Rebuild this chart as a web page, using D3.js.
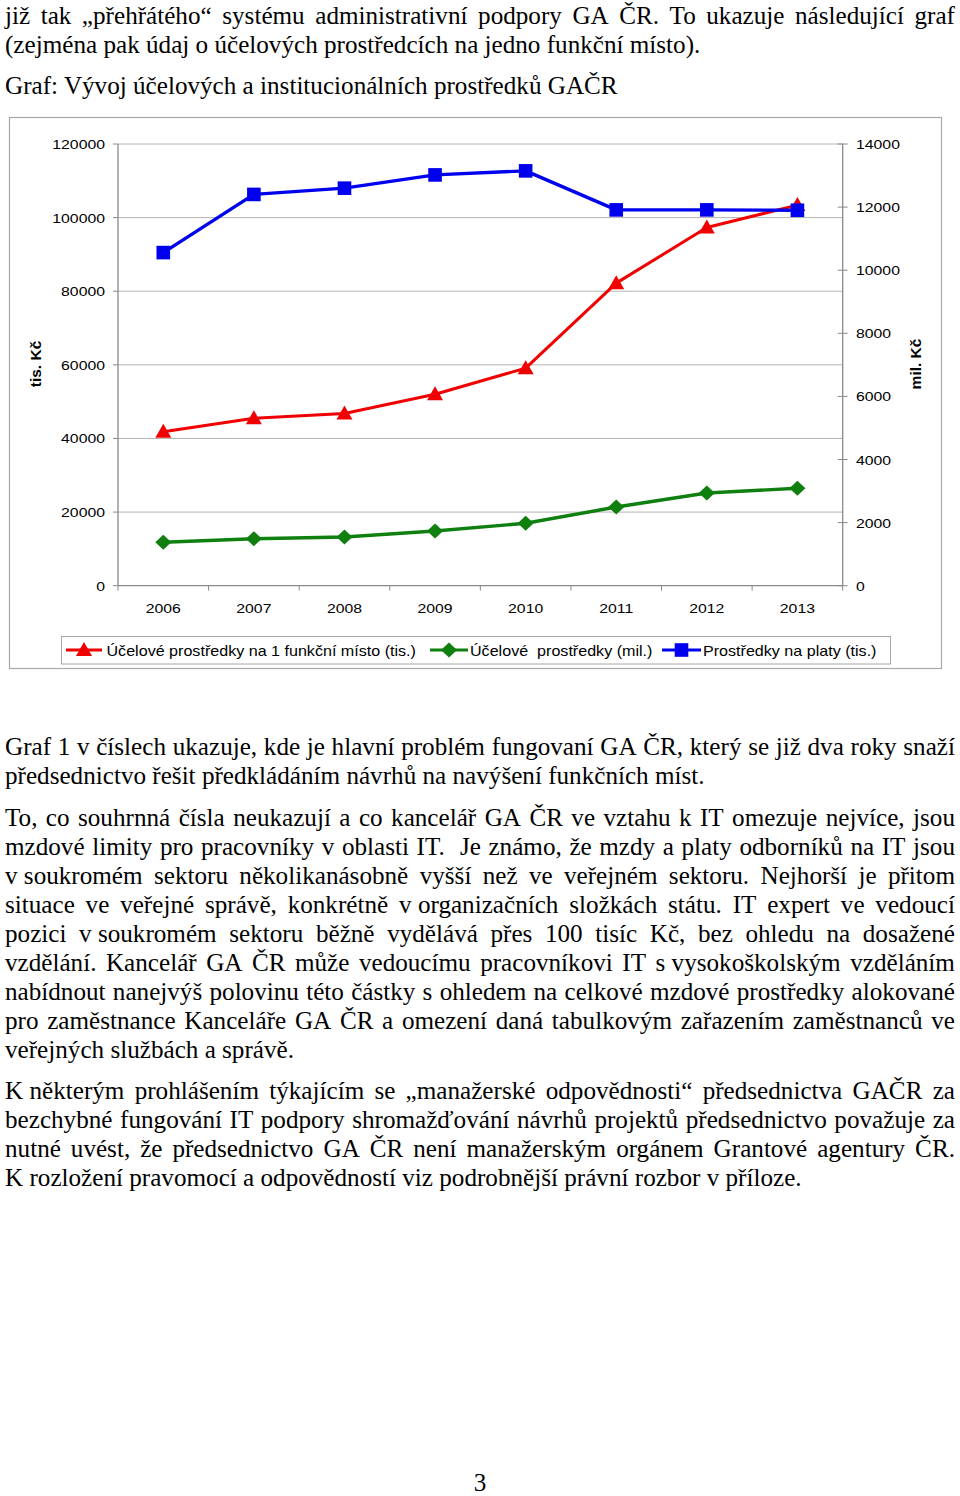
<!DOCTYPE html>
<html><head><meta charset="utf-8">
<script src="https://cdn.jsdelivr.net/npm/d3@7"></script>
<style>body{margin:0;background:#fff}svg{display:block}.serif{font-family:"Liberation Serif","Times New Roman",serif}</style>
</head><body>
<svg id="page" width="960" height="1496"></svg>
<script>
// ---------- DATA ----------
const years = ["2006","2007","2008","2009","2010","2011","2012","2013"];
const perPlace = [41800, 45500, 46800, 52000, 59100, 82200, 97300, 103400]; // tis. Kč, left axis
const purposeFunds = [1376, 1490, 1544, 1734, 1978, 2494, 2938, 3087];      // mil. Kč, right axis
const salaries = [90500, 106300, 108000, 111600, 112700, 102100, 102100, 102000]; // tis. Kč, left axis
const leftTicks = [0, 20000, 40000, 60000, 80000, 100000, 120000];
const rightTicks = [0, 2000, 4000, 6000, 8000, 10000, 12000, 14000];
const seriesNames = ["Účelové prostředky na 1 funkční místo (tis.)", "Účelové  prostředky (mil.)", "Prostředky na platy (tis.)"];
const axisTitles = ["tis. Kč", "mil. Kč"];

const topLines = [
  ["již tak „přehřátého“ systému administrativní podpory GA ČR. To ukazuje následující graf", true],
  ["(zejména pak údaj o účelových prostředcích na jedno funkční místo).", false]
];
const chartCaption = "Graf: Vývoj účelových a institucionálních prostředků GAČR";
const para1 = [
  ["Graf 1 v číslech ukazuje, kde je hlavní problém fungovaní GA ČR, který se již dva roky snaží", true],
  ["předsednictvo řešit předkládáním návrhů na navýšení funkčních míst.", false]
];
const para2 = [
  ["To, co souhrnná čísla neukazují a co kancelář GA ČR ve vztahu k IT omezuje nejvíce, jsou", true],
  ["mzdové limity pro pracovníky v oblasti IT.  Je známo, že mzdy a platy odborníků na IT jsou", true],
  ["v\u00a0soukromém sektoru několikanásobně vyšší než ve veřejném sektoru. Nejhorší je přitom", true],
  ["situace ve veřejné správě, konkrétně v\u00a0organizačních složkách státu. IT expert ve vedoucí", true],
  ["pozici v\u00a0soukromém sektoru běžně vydělává přes 100 tisíc Kč, bez ohledu na dosažené", true],
  ["vzdělání. Kancelář GA ČR může vedoucímu pracovníkovi IT s\u00a0vysokoškolským vzděláním", true],
  ["nabídnout nanejvýš polovinu této částky s ohledem na celkové mzdové prostředky alokované", true],
  ["pro zaměstnance Kanceláře GA ČR a omezení daná tabulkovým zařazením zaměstnanců ve", true],
  ["veřejných službách a správě.", false]
];
const para3 = [
  ["K\u00a0některým prohlášením týkajícím se „manažerské odpovědnosti“ předsednictva GAČR za", true],
  ["bezchybné fungování IT podpory shromažďování návrhů projektů předsednictvo považuje za", true],
  ["nutné uvést, že předsednictvo GA ČR není manažerským orgánem Grantové agentury ČR.", true],
  ["K\u00a0rozložení pravomocí a odpovědností viz podrobnější právní rozbor v\u00a0příloze.", false]
];
const pageNumber = "3";

// ---------- PAGE ----------
const svg = d3.select("#page");
svg.append("rect").attr("width", 960).attr("height", 1496).attr("fill", "#fff");

const bodySize = 25.5;
const lineH = 29;
const leftX = 5, textW = 950;

const meas = svg.append("text").attr("class", "serif").attr("font-size", bodySize).attr("x", -2000).attr("y", -100);
function wOf(s) { meas.text(s); return meas.node().getComputedTextLength(); }
const sx = 613 / wOf(chartCaption);

function drawLine(str, y, justify) {
  const g = svg.append("g").attr("transform", `translate(${leftX},${y}) scale(${sx},1)`)
    .attr("class", "serif").attr("font-size", bodySize).attr("fill", "#000");
  if (!justify) { g.append("text").attr("x", 0).attr("y", 0).text(str); return; }
  const words = str.split(" ");
  const widths = words.map(w => w ? wOf(w) : 0);
  const total = d3.sum(widths);
  const gap = (textW / sx - total) / (words.length - 1);
  let x = 0;
  words.forEach((w, i) => {
    if (w) g.append("text").attr("x", x).attr("y", 0).text(w);
    x += widths[i] + gap;
  });
}
function drawBlock(lines, y0) { lines.forEach((l, i) => drawLine(l[0], y0 + i * lineH, l[1])); }

drawBlock(topLines, 24);
drawLine(chartCaption, 94, false);
drawBlock(para1, 755);
drawBlock(para2, 826);
drawBlock(para3, 1099);
svg.append("text").attr("transform", `translate(480,1491) scale(${sx},1)`).attr("text-anchor", "middle")
  .attr("class", "serif").attr("font-size", bodySize).text(pageNumber);
meas.remove();

// ---------- CHART ----------
const sans = "'Liberation Sans',Arial,sans-serif";
const lblSize = 13.5, lblSX = 1.17;
const C = { red: "#f00000", green: "#0f800f", blue: "#0000ee", grid: "#b4b4b4", axis: "#8a8a8a", frame: "#a8a8a8" };

svg.append("rect").attr("x", 9.5).attr("y", 117.5).attr("width", 932).attr("height", 551)
  .attr("fill", "#fff").attr("stroke", C.frame).attr("stroke-width", 1.2);

const px0 = 118, px1 = 842.7, py0 = 144, py1 = 585.7;
const x = d3.scaleBand().domain(years).range([px0, px1]);
const yL = d3.scaleLinear().domain([0, 120000]).range([py1, py0]);
const yR = d3.scaleLinear().domain([0, 14000]).range([py1, py0]);
const cx = d => x(d) + x.bandwidth() / 2;

const chart = svg.append("g");
chart.append("g").selectAll("line").data(leftTicks.filter(t => t > 0)).join("line")
  .attr("x1", px0).attr("x2", px1).attr("y1", d => yL(d)).attr("y2", d => yL(d))
  .attr("stroke", C.grid).attr("stroke-width", 1);

function label(g, txt, xx, yy, anchor, size, weight, rot, sxx) {
  return g.append("text").attr("transform", `translate(${xx},${yy}) ${rot ? "rotate(-90)" : `scale(${sxx || lblSX},1)`}`)
    .attr("text-anchor", anchor).attr("font-family", sans).attr("font-size", size)
    .attr("font-weight", weight || "normal").attr("fill", "#000").text(txt);
}

// left axis
const axL = chart.append("g");
axL.append("line").attr("x1", px0).attr("x2", px0).attr("y1", py0).attr("y2", py1).attr("stroke", C.axis).attr("stroke-width", 1.3);
leftTicks.forEach(t => {
  axL.append("line").attr("x1", px0 - 5).attr("x2", px0).attr("y1", yL(t)).attr("y2", yL(t)).attr("stroke", C.axis);
  label(axL, d3.format("d")(t), 105, yL(t) + 5, "end", lblSize);
});
// right axis
const axR = chart.append("g");
axR.append("line").attr("x1", px1).attr("x2", px1).attr("y1", py0).attr("y2", py1).attr("stroke", C.axis).attr("stroke-width", 1.3);
rightTicks.forEach(t => {
  axR.append("line").attr("x1", px1 - 5).attr("x2", px1 + 5).attr("y1", yR(t)).attr("y2", yR(t)).attr("stroke", C.axis);
  label(axR, d3.format("d")(t), 856, yR(t) + 5, "start", lblSize);
});
// bottom axis
const axB = chart.append("g");
axB.append("line").attr("x1", px0).attr("x2", px1).attr("y1", py1).attr("y2", py1).attr("stroke", C.axis).attr("stroke-width", 1.3);
const bounds = years.map(d => x(d)).concat([px1]);
bounds.forEach(b => axB.append("line").attr("x1", b).attr("x2", b).attr("y1", py1).attr("y2", py1 + 5).attr("stroke", C.axis));
years.forEach(d => label(axB, d, cx(d), 613, "middle", lblSize));

// axis titles
label(chart, axisTitles[0], 41, 364, "middle", 15.5, "bold", true);
label(chart, axisTitles[1], 921, 364, "middle", 15.5, "bold", true);

function marker(g, type, color, xx, yy) {
  if (type === "square") g.append("rect").attr("x", xx - 6.8).attr("y", yy - 6.8).attr("width", 13.6).attr("height", 13.6).attr("fill", color);
  else if (type === "tri") g.append("path").attr("d", `M${xx},${yy - 8}L${xx + 8},${yy + 6}L${xx - 8},${yy + 6}Z`).attr("fill", color);
  else g.append("path").attr("d", `M${xx},${yy - 7.5}L${xx + 8},${yy}L${xx},${yy + 7.5}L${xx - 8},${yy}Z`).attr("fill", color);
}
const series = [
  { vals: perPlace, y: yL, color: C.red, m: "tri", w: 3 },
  { vals: purposeFunds, y: yR, color: C.green, m: "diamond", w: 3.4 },
  { vals: salaries, y: yL, color: C.blue, m: "square", w: 3.4 }
];
series.forEach(s => {
  const g = chart.append("g");
  const line = d3.line().x((v, i) => cx(years[i])).y(v => s.y(v));
  g.append("path").attr("d", line(s.vals)).attr("fill", "none").attr("stroke", s.color).attr("stroke-width", s.w).attr("stroke-linejoin", "round");
  s.vals.forEach((v, i) => marker(g, s.m, s.color, cx(years[i]), s.y(v)));
});

// legend
const lg = svg.append("g");
lg.append("rect").attr("x", 61.5).attr("y", 636.5).attr("width", 829).attr("height", 27.5)
  .attr("fill", "#fff").attr("stroke", C.frame).attr("stroke-width", 1);
const legendPos = [[66, 102, 106.5], [430, 468, 470], [662, 701, 703]];
series.forEach((s, i) => {
  const [a, b, t] = legendPos[i];
  lg.append("line").attr("x1", a).attr("x2", b).attr("y1", 650).attr("y2", 650).attr("stroke", s.color).attr("stroke-width", 3);
  marker(lg, s.m, s.color, (a + b) / 2, 650);
  label(lg, seriesNames[i], t, 655.5, "start", 14, "normal", false, 1.15).style("white-space", "pre");
});
</script>
</body></html>
